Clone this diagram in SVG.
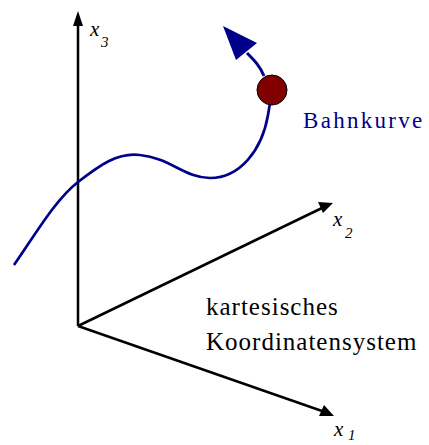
<svg xmlns="http://www.w3.org/2000/svg" width="429" height="445" viewBox="0 0 429 445">
<style>
.ax{stroke:#000;stroke-width:2.5;fill:none}
.lbl{font-family:"Liberation Serif",serif;font-style:italic;font-size:21px;fill:#000}
.sub{font-family:"Liberation Serif",serif;font-style:italic;font-size:15px;fill:#000}
.txt{font-family:"Liberation Serif",serif;font-size:25px;fill:#000;letter-spacing:1px}
</style>
<rect width="429" height="445" fill="#fff"/>
<g id="connectors">
<line class="ax" x1="78" y1="326" x2="78" y2="22"/>
<path d="M73,26 L78,11 L83,26 z" fill="#000"/>
<line class="ax" x1="78" y1="326" x2="322" y2="208"/>
<path d="M318,202 L333,203 L323,213 z" fill="#000"/>
<line class="ax" x1="78" y1="326" x2="322" y2="411"/>
<path d="M324,405 L334,416 L319,416 z" fill="#000"/>
</g>
<g id="curve">
<path d="M14,265 C35,235 55,200 78,182 C100,165 118,152 140,155 C170,158 185,178 210,178 C240,178 262,150 268,115 L270,103" fill="none" stroke="#00008b" stroke-width="2.7"/>
<path d="M264,76 C260,66 254,60 247,53" fill="none" stroke="#00008b" stroke-width="3"/>
<path d="M223,26 L257,43 L236,60 z" fill="#00008b"/>
</g>
<g id="ball">
<circle cx="272" cy="90" r="15" fill="#800000" stroke="#000" stroke-width="1"/>
</g>
<g id="labels">
<text class="lbl" x="90" y="36">x</text><text class="sub" x="101" y="47">3</text>
<text class="lbl" x="334" y="436">x</text><text class="sub" x="348" y="440">1</text>
<text class="lbl" x="333" y="226">x</text><text class="sub" x="345" y="238">2</text>
<text x="303" y="128" style="font-family:'Liberation Serif',serif;font-size:23px;fill:#00008b;letter-spacing:2.3px">Bahnkurve</text>
<text class="txt" x="206" y="315">kartesisches</text>
<text class="txt" x="206" y="350">Koordinatensystem</text>
</g>
</svg>
